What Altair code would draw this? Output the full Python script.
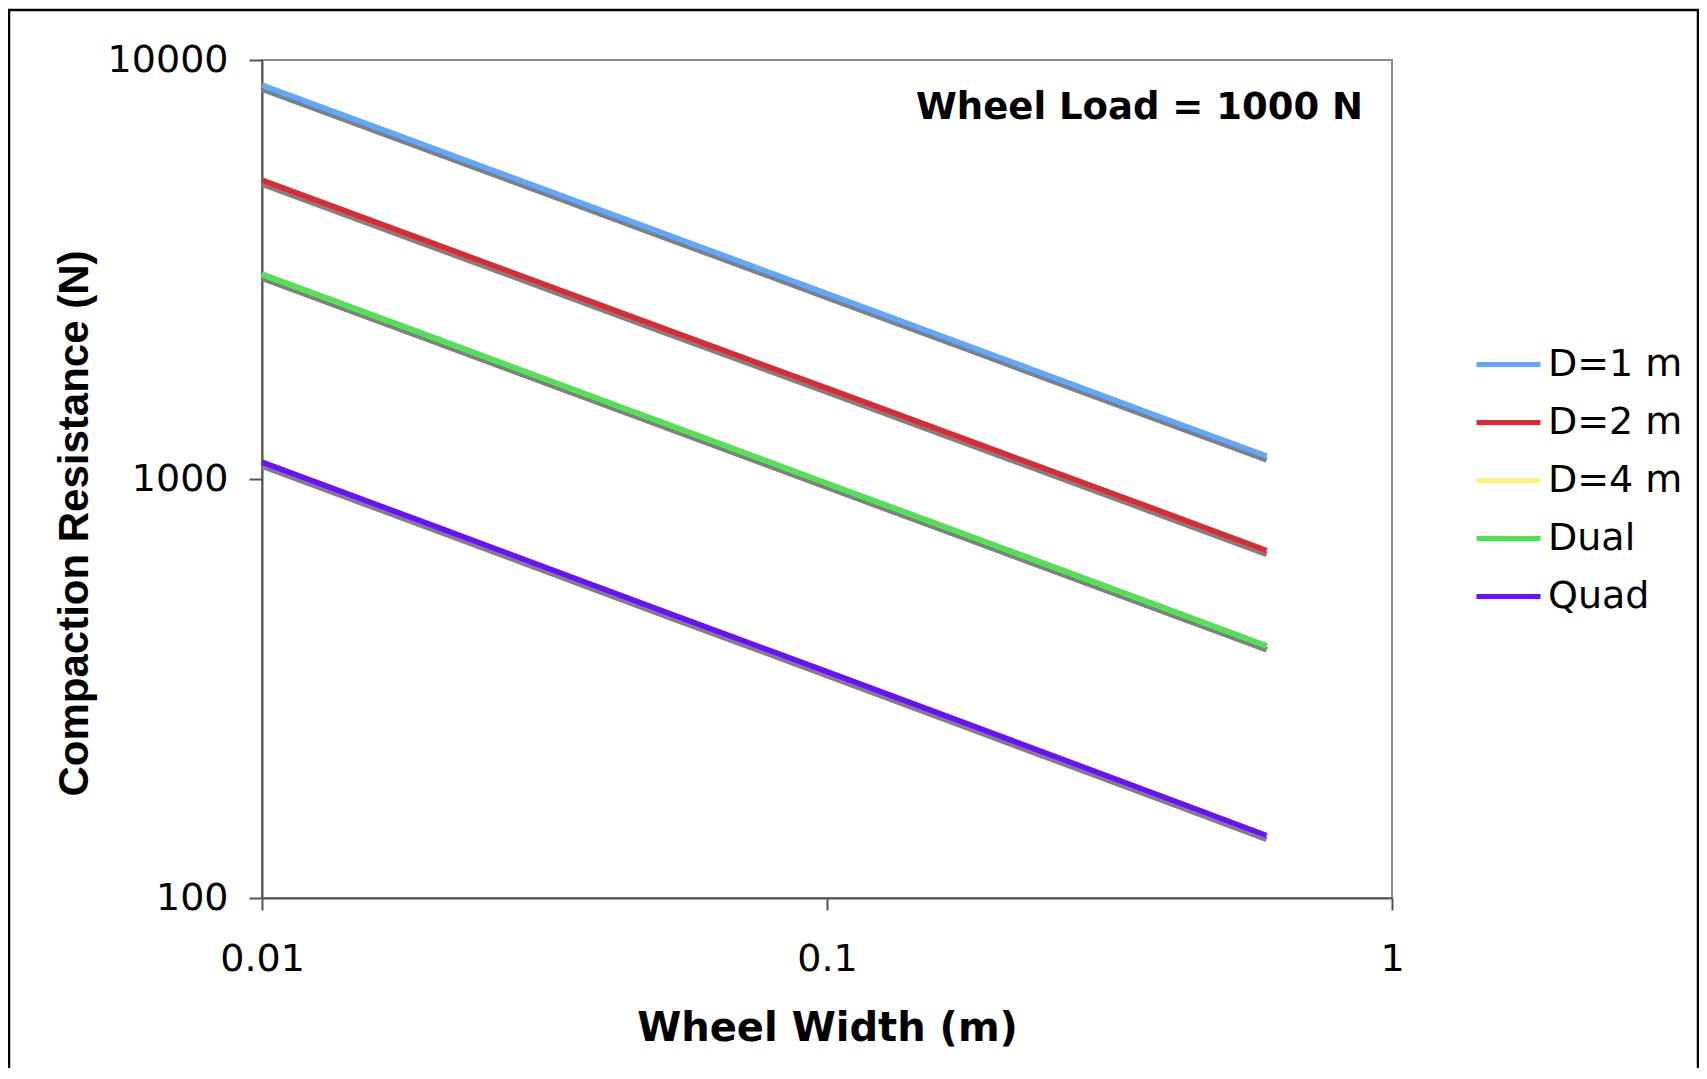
import altair as alt
import pandas as pd

# Wheel width (m)
widths = [0.01, 0.02, 0.05, 0.1, 0.2, 0.4, 0.6]

# Compaction resistance (N)
d1 = [8710, 6170, 3910, 2770, 1960, 1387, 1135]
d2 = [5170, 3660, 2320, 1647, 1167, 827, 675]
d4 = [3083, 2183, 1381, 977, 692, 490, 400]
dual = [3083, 2183, 1381, 977, 692, 490, 400]
quad = [1097, 776, 490, 347, 245, 173, 141]

series_names = ["D=1 m", "D=2 m", "D=4 m", "Dual", "Quad"]
series_values = [d1, d2, d4, dual, quad]
series_colors = ["#5fa8ff", "#dd2a32", "#fff085", "#4ce454", "#6a10ff"]

x_ticks = [0.01, 0.1, 1]
y_ticks = [100, 1000, 10000]

rows = []
for name, vals in zip(series_names, series_values):
    for w, v in zip(widths, vals):
        rows.append({"series": name, "width": w, "resistance": v})
df = pd.DataFrame(rows)

W, H = 1130, 838

x_enc = alt.X(
    "width:Q",
    scale=alt.Scale(type="log", domain=[0.01, 1], nice=False),
    axis=alt.Axis(
        values=x_ticks, format="~g", title="Wheel Width (m)",
        grid=False, tickSize=12, labelPadding=30, labelFlush=False,
        labelFont="DejaVu Sans", labelFontSize=38, labelColor="black",
        titleFont="DejaVu Sans", titleFontWeight="bold", titleFontSize=40,
        titleColor="black", titleX=W / 2, titleY=110,
        domainColor="#555555", domainWidth=2, tickColor="#555555", tickWidth=2,
    ),
)
y_enc = alt.Y(
    "resistance:Q",
    scale=alt.Scale(type="log", domain=[100, 10000], nice=False),
    axis=alt.Axis(
        values=y_ticks, format="d", title="Compaction Resistance (N)",
        grid=False, tickSize=13, labelPadding=21, labelFlush=False,
        labelFont="DejaVu Sans", labelFontSize=38, labelColor="black",
        titleFont="Liberation Sans", titleFontWeight="bold", titleFontSize=42,
        titleColor="black", titleX=-166, titleY=463,
        domainColor="#555555", domainWidth=2, tickColor="#555555", tickWidth=2,
    ),
)

shadow = alt.Chart(df).mark_line(
    color="#808080", strokeWidth=5.5, yOffset=4
).encode(x=x_enc, y=y_enc, detail="series:N")

lines = alt.Chart(df).mark_line(strokeWidth=5.5).encode(
    x=x_enc,
    y=y_enc,
    color=alt.Color(
        "series:N",
        scale=alt.Scale(domain=series_names, range=series_colors),
        legend=alt.Legend(
            title=None, orient="none", legendX=1212, legendY=270,
            symbolType="stroke", symbolSize=4096, symbolStrokeWidth=5,
            labelFont="DejaVu Sans", labelFontSize=38, labelColor="black",
            labelOffset=5, rowPadding=4, padding=0, labelLimit=400,
        ),
    ),
    order=alt.Order("series:N"),
)

note = alt.Chart(pd.DataFrame({"t": ["Wheel Load = 1000 N"]})).mark_text(
    align="right", baseline="middle", font="DejaVu Sans", fontWeight="bold",
    fontSize=37, color="black",
).encode(x=alt.value(1101), y=alt.value(48), text="t:N")

frame = alt.Chart(pd.DataFrame({"a": [0]})).mark_rect(
    fill="transparent", stroke="black", strokeWidth=2.5
).encode(
    x=alt.value(-253), x2=alt.value(1436), y=alt.value(-50), y2=alt.value(1200)
)

chart = (
    alt.layer(frame, shadow, lines, note)
    .properties(
        width=W, height=H,
        autosize=alt.AutoSizeParams(type="none"),
        padding={"left": 254, "top": 52, "right": 307, "bottom": 170},
        background="white",
    )
    .configure_view(stroke="#8a8a8a", strokeWidth=2)
)

chart.save("out.html", embed_options={"renderer": "svg", "actions": False})
